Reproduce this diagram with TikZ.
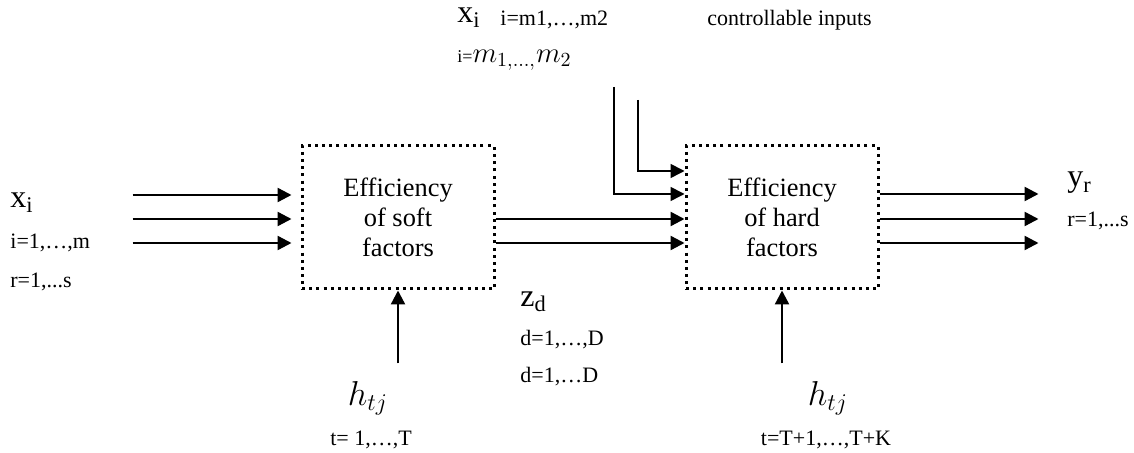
\documentclass[tikz,border=0pt]{standalone}
\usepackage{fontspec}
\setmainfont{Liberation Serif}
\usetikzlibrary{arrows.meta,positioning,calc}
\tikzset{
  effbox/.style ={draw,line width=1.5pt,dash pattern=on 1.5pt off 2.1pt,
                  minimum width=96pt,minimum height=71.5pt,align=center,
                  inner sep=0pt,font=\fontsize{13.2}{15}\selectfont},
  sig/.style    ={-{Triangle[length=7pt,width=7pt]},line width=1.2pt},
  feed/.style   ={sig,line width=0.8pt},
  lbl/.style    ={font=\fontsize{11}{13}\selectfont,inner sep=0pt,anchor=west},
  var/.style    ={font=\fontsize{16}{18}\selectfont,inner sep=0pt,anchor=west},
  hlab/.style   ={font=\fontsize{18}{20}\selectfont,inner sep=0pt},
}

\begin{document}
\begin{tikzpicture}[x=0.5pt,y=-0.5pt]
\useasboundingbox (0,0) rectangle (1134,453);

% the two blocks
\node[effbox] (soft) at (398,217.5) {Efficiency\\of soft\\factors};
\node[effbox] (hard) at (782,217.5) {Efficiency\\of hard\\factors};

% inputs on the left
\node[var] (xin)  at (10,203) {x\textsubscript{i}};
\node[lbl] (xinI) at (10,243) {i=1,…,m};
\node[lbl] (xinR) at (10,282) {r=1,...s};
\foreach \y in {195,219,243}
  \draw[sig] ([xshift=-84pt]soft.west |- 0,\y) -- ([xshift=-4.5pt]soft.west |- 0,\y);

% soft -> hard
\foreach \y in {219,243}
  \draw[sig] (soft.east |- 0,\y) -- (hard.west |- 0,\y);
\node[var] (zd)  at (520,302) {z\textsubscript{d}};
\node[lbl] (zdA) at (520,340) {d=1,…,D};
\node[lbl] (zdB) at (520,377) {d=1,…D};

% controllable inputs
\node[var] (xctl)  at (457,18) {x\textsubscript{i}};
\node[lbl] (xctlI) at (500,20) {i=m1,…,m2};
\node[lbl] (xctlM) at (457,60)
  {{\fontsize{9}{9}\selectfont i=}{\fontsize{14}{16}\selectfont$m_{1,\ldots,}m_{2}$}};
\node[lbl] (ctl) at (707,20) {controllable inputs};
\coordinate (cA) at (614,87);
\coordinate (cB) at (638,100);
\draw[feed] (cA) |- (hard.west |- 0,194);
\draw[feed] (cB) |- (hard.west |- 0,171);

% outputs
\foreach \y in {194,219,243}
  \draw[sig] (hard.east |- 0,\y) -- ([xshift=79.5pt]hard.east |- 0,\y);
\node[var] (yr)  at (1067,183) {y\textsubscript{r}};
\node[lbl] (yrS) at (1067,221) {r=1,...s};

% factors from below
\node[hlab] (hsoft) at (368,398) {$h_{tj}$};
\node[lbl,anchor=center] (tsoft) at (371,440) {t= 1,…,T};
\node[hlab] (hhard) at (828,398) {$h_{tj}$};
\node[lbl,anchor=center] (thard) at (826,440) {t=T+1,…,T+K};
\draw[sig] ([yshift=-36.5pt]soft.south) -- (soft.south);
\draw[sig] ([yshift=-36.5pt]hard.south) -- (hard.south);
\end{tikzpicture}
\end{document}
